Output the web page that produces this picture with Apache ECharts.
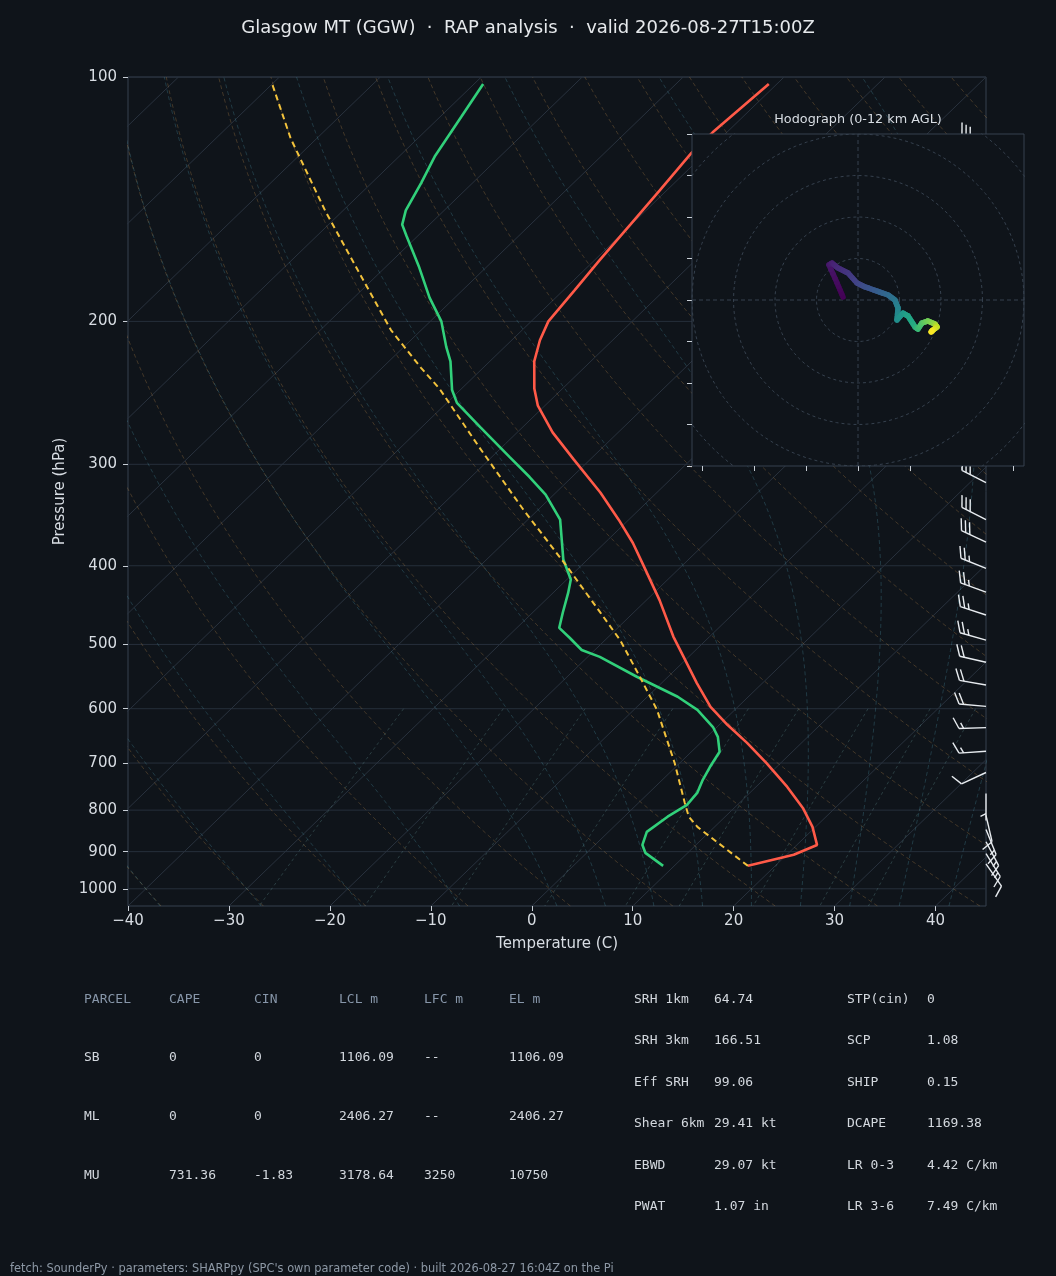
<!DOCTYPE html>
<html><head><meta charset="utf-8">
<script src="https://cdn.jsdelivr.net/npm/echarts@6/dist/echarts.min.js"></script>
<style>html,body{margin:0;padding:0;background:#0f141a;}#c{width:1056px;height:1276px;}</style>
</head><body><div id="c"></div>
<script>
// ---------------- data ----------------
const titleText = 'Glasgow MT (GGW)  \u00b7  RAP analysis  \u00b7  valid 2026-08-27T15:00Z';
const footerText = "fetch: SounderPy \u00b7 parameters: SHARPpy (SPC's own parameter code) \u00b7 built 2026-08-27 16:04Z on the Pi";
const pressureTicks = [100, 200, 300, 400, 500, 600, 700, 800, 900, 1000];
const tempTicks = [-40, -30, -20, -10, 0, 10, 20, 30, 40];

const tempP = [937, 908, 883, 839, 795, 749, 700, 661, 628, 597, 558, 518, 489, 441, 397, 375, 351, 325, 296, 274, 254, 242, 224, 211, 200, 183, 168, 152, 138, 124, 117, 102];
const tempT = [17.3, 20.7, 22.0, 19.7, 16.8, 13.1, 8.6, 4.6, 0.8, -2.7, -6.5, -10.5, -13.6, -18.7, -24.2, -27.2, -31.0, -35.6, -41.6, -46.5, -50.7, -52.8, -55.6, -57.2, -58.3, -58.9, -59.5, -60.1, -60.7, -61.4, -61.4, -60.8];

const dewP = [937, 903, 883, 851, 815, 788, 762, 734, 708, 678, 650, 632, 602, 580, 548, 518, 508, 491, 477, 457, 432, 416, 393, 351, 327, 311, 294, 270, 252, 243, 224, 215, 200, 187, 171, 157, 152, 146, 135, 125, 112, 102];
const dewT = [8.9, 5.8, 4.7, 3.8, 4.3, 5.0, 4.8, 4.0, 3.4, 2.8, 1.1, -0.4, -3.7, -7.0, -13.1, -18.8, -21.3, -23.7, -25.8, -27.0, -28.5, -29.6, -32.4, -36.8, -40.8, -44.2, -48.2, -54.2, -59.0, -60.8, -63.9, -65.8, -68.9, -72.5, -76.8, -81.1, -82.7, -83.8, -85.1, -86.5, -87.9, -89.1];

const parcelP = [937, 839, 815, 784, 700, 602, 548, 494, 456, 401, 341, 286, 242, 228, 205, 174, 146, 119, 102];
const parcelT = [17.3, 8.3, 6.4, 4.6, -0.5, -7.7, -12.8, -18.5, -23.4, -31.3, -41.5, -52.2, -62.2, -66.2, -73.0, -82.1, -91.8, -102.6, -110.0];

const barbP   = [932, 905, 875, 845, 812, 763, 719, 677, 633, 596, 561, 526, 494, 460, 431, 403, 374, 351, 316, 290, 266, 244, 224, 205, 188, 172, 158, 145, 133, 122];
const barbSpd = [10, 15, 15, 15, 10, 5, 10, 15, 15, 20, 20, 20, 25, 25, 25, 25, 30, 30, 30, 30, 30, 30, 30, 30, 30, 30, 30, 30, 30, 30];
const barbDir = [145, 148, 152, 158, 167, 180, 245, 266, 268, 275, 280, 283, 286, 288, 290, 292, 295, 297, 297, 297, 297, 297, 297, 297, 297, 297, 297, 297, 297, 297];

const hodoU = [-7.2, -10.1, -14.0, -12.5, -9.6, -4.8, -0.5, 3.4, 9.2, 14.5, 17.8, 19.3, 18.8, 21.7, 24.1, 27.5, 28.9, 30.8, 33.7, 37.1, 38.1, 36.1, 35.2];
const hodoV = [1.4, 8.2, 16.9, 17.8, 15.4, 13.0, 8.2, 6.3, 4.3, 2.4, 0.0, -3.9, -9.6, -6.3, -7.7, -13.0, -14.0, -11.1, -10.1, -11.6, -13.0, -14.5, -15.4];
const hodoH = [0, 0.3, 0.7, 1.0, 1.4, 1.8, 2.3, 2.8, 3.4, 4.0, 4.6, 5.2, 5.8, 6.3, 6.8, 7.4, 8.0, 8.6, 9.3, 10.0, 10.7, 11.4, 12.0];
const hodoRings = [20, 40, 60, 80, 100];
const hodoXTicks = [-75, -50, -25, 0, 25, 50, 75];
const hodoYTicks = [-80, -60, -40, -20, 0, 20, 40, 60, 80];

const parcelHeaders = ['PARCEL', 'CAPE', 'CIN', 'LCL m', 'LFC m', 'EL m'];
const parcelRows = [
  ['SB', '0', '0', '1106.09', '--', '1106.09'],
  ['ML', '0', '0', '2406.27', '--', '2406.27'],
  ['MU', '731.36', '-1.83', '3178.64', '3250', '10750']
];
const paramLabelsL = ['SRH 1km', 'SRH 3km', 'Eff SRH', 'Shear 6km', 'EBWD', 'PWAT'];
const paramValuesL = ['64.74', '166.51', '99.06', '29.41 kt', '29.07 kt', '1.07 in'];
const paramLabelsR = ['STP(cin)', 'SCP', 'SHIP', 'DCAPE', 'LR 0-3', 'LR 3-6'];
const paramValuesR = ['0', '1.08', '0.15', '1169.38', '4.42 C/km', '7.49 C/km'];

// ---------------- helpers ----------------
const P_BOT = 1050, P_TOP = 100, X_MIN = -40, X_MAX = 45;
const LB = Math.log10(P_BOT), LT = Math.log10(P_TOP);
function skewX(T, p) { return T + (X_MAX - X_MIN) * (LB - Math.log10(p)) / (LB - LT); }
function pt(T, p) { return [skewX(T, p), Math.log10(p)]; }

const BG = '#0f141a';
const FONT = '"DejaVu Sans", sans-serif';
const MONO = '"DejaVu Sans Mono", monospace';

const guideP = [];
for (let k = 0; k <= 60; k++) guideP.push(P_BOT * Math.pow(P_TOP / P_BOT, k / 60));

const Rd = 287.04, Cp = 1005.7, Lv = 2.501e6, EPS = 0.622;
function esat(Tk) { const Tc = Tk - 273.15; return 6.112 * Math.exp(17.67 * Tc / (Tc + 243.5)); }
function rsat(p, Tk) { const e = esat(Tk); return EPS * e / (p - e); }
function dTdp(p, Tk) { const r = rsat(p, Tk); return (Rd * Tk + Lv * r) / (Cp + Lv * Lv * r * EPS / (Rd * Tk * Tk)) / p; }
function moistT(t0, p) {
  let T = t0 + 273.15, pc = 1000;
  const n = Math.max(4, Math.ceil(Math.abs(p - 1000) / 4));
  const h = (p - 1000) / n;
  for (let k = 0; k < n; k++) {
    const k1 = dTdp(pc, T), k2 = dTdp(pc + h / 2, T + h * k1 / 2), k3 = dTdp(pc + h / 2, T + h * k2 / 2), k4 = dTdp(pc + h, T + h * k3);
    T += h * (k1 + 2 * k2 + 2 * k3 + k4) / 6; pc += h;
  }
  return T - 273.15;
}

const series = [];
function guide(data, color, type, z) {
  series.push({ type: 'line', xAxisIndex: 0, yAxisIndex: 0, data: data, showSymbol: false, silent: true, clip: true, z: z || 1,
    lineStyle: { color: color, width: 1, type: type }, animation: false });
}
// isobars
pressureTicks.forEach(p => guide([[X_MIN, Math.log10(p)], [X_MAX, Math.log10(p)]], '#262f3b', 'solid', 1));
// isotherms
for (let T = -130; T <= 40; T += 10) guide([pt(T, P_BOT), pt(T, P_TOP)], '#29323e', 'solid', 1);
// dry adiabats
for (let t0 = -40; t0 <= 200; t0 += 10) {
  guide(guideP.map(p => pt((t0 + 273.15) * Math.pow(p / 1000, Rd / Cp) - 273.15, p)), 'rgba(190,140,75,0.30)', [4, 3], 1);
}
// moist adiabats
[-40, -30, -20, -10, 0, 5, 10, 15, 20, 25, 30, 35, 40, 45].forEach(t0 => {
  guide(guideP.map(p => pt(moistT(t0, p), p)), 'rgba(70,140,160,0.32)', [4, 3], 1);
});
// mixing ratio lines
const mixP = [];
for (let k = 0; k <= 12; k++) mixP.push(600 + (P_BOT - 600) * k / 12);
[0.0004, 0.001, 0.002, 0.004, 0.007, 0.01, 0.016, 0.024, 0.032].forEach(w => {
  guide(mixP.map(p => { const e = p * w / (EPS + w); const l = Math.log(e / 6.112); return pt(243.5 * l / (17.67 - l), p); }), 'rgba(100,150,150,0.32)', [3, 3], 1);
});

// profiles
series.push({ type: 'line', name: 'T', data: tempP.map((p, i) => pt(tempT[i], p)), showSymbol: false, z: 3, clip: true,
  lineStyle: { color: '#ff5a48', width: 2.6 }, animation: false });
series.push({ type: 'line', name: 'Td', data: dewP.map((p, i) => pt(dewT[i], p)), showSymbol: false, z: 3, clip: true,
  lineStyle: { color: '#31d07a', width: 2.6 }, animation: false });
series.push({ type: 'line', name: 'Parcel', data: parcelP.map((p, i) => pt(parcelT[i], p)), showSymbol: false, z: 3, clip: true,
  lineStyle: { color: '#f2c23c', width: 2, type: [6, 4] }, animation: false });

// wind barbs
series.push({
  type: 'custom', xAxisIndex: 0, yAxisIndex: 0, z: 3, clip: false, silent: true, animation: false,
  data: barbP.map(p => [X_MAX, Math.log10(p)]),
  renderItem: function (params, api) {
    const i = params.dataIndex;
    const base = api.coord([api.value(0), api.value(1)]);
    const a = barbDir[i] * Math.PI / 180;
    const d = [Math.sin(a), -Math.cos(a)];
    const n = [-d[1], d[0]];
    const L = 27, H = 11, SP = 4.6;
    const tip = [base[0] + L * d[0], base[1] + L * d[1]];
    const children = [{ type: 'line', shape: { x1: base[0], y1: base[1], x2: tip[0], y2: tip[1] } }];
    let s = Math.round(barbSpd[i] / 5) * 5;
    let off = 0;
    while (s >= 50) {
      const p0 = [tip[0] - off * d[0], tip[1] - off * d[1]];
      children.push({ type: 'polygon', shape: { points: [p0, [p0[0] + H * n[0] - 3 * d[0], p0[1] + H * n[1] - 3 * d[1]], [p0[0] - 6 * d[0], p0[1] - 6 * d[1]]] }, style: { fill: '#e8ecf0' } });
      off += 6 + SP; s -= 50;
    }
    while (s >= 10) {
      const p0 = [tip[0] - off * d[0], tip[1] - off * d[1]];
      children.push({ type: 'line', shape: { x1: p0[0], y1: p0[1], x2: p0[0] + H * n[0] + H / 2 * d[0], y2: p0[1] + H * n[1] + H / 2 * d[1] } });
      off += SP; s -= 10;
    }
    if (s >= 5) {
      if (off === 0) off = 1.5 * SP;
      const p0 = [tip[0] - off * d[0], tip[1] - off * d[1]];
      children.push({ type: 'line', shape: { x1: p0[0], y1: p0[1], x2: p0[0] + H / 2 * n[0] + H / 4 * d[0], y2: p0[1] + H / 2 * n[1] + H / 4 * d[1] } });
    }
    children.forEach(c => { if (c.type === 'line') c.style = { stroke: '#e8ecf0', lineWidth: 1.4 }; });
    return { type: 'group', children: children };
  }
});

// hodograph guides
hodoRings.forEach(r => {
  const ring = [];
  for (let k = 0; k <= 90; k++) { const t = k / 90 * 2 * Math.PI; ring.push([r * Math.cos(t), r * Math.sin(t)]); }
  series.push({ type: 'line', xAxisIndex: 1, yAxisIndex: 1, data: ring, showSymbol: false, silent: true, clip: true, z: 6,
    lineStyle: { color: '#36414e', width: 1, type: [3, 3] }, animation: false });
});
series.push({ type: 'line', xAxisIndex: 1, yAxisIndex: 1, data: [[-80, 0], [80, 0]], showSymbol: false, z: 6, silent: true,
  lineStyle: { color: '#36414e', width: 1, type: [4, 3] }, animation: false });
series.push({ type: 'line', xAxisIndex: 1, yAxisIndex: 1, data: [[0, -80], [0, 80]], showSymbol: false, z: 6, silent: true,
  lineStyle: { color: '#36414e', width: 1, type: [4, 3] }, animation: false });

const viridis = ['#440154', '#482475', '#414487', '#355f8d', '#2a788e', '#21918c', '#22a884', '#44bf70', '#7ad151', '#bddf26', '#fde725'];
function hex2rgb(h) { return [parseInt(h.substr(1, 2), 16), parseInt(h.substr(3, 2), 16), parseInt(h.substr(5, 2), 16)]; }
function vir(f) {
  f = Math.max(0, Math.min(1, f)) * 10; const i = Math.min(9, Math.floor(f)); const t = f - i;
  const a = hex2rgb(viridis[i]), b = hex2rgb(viridis[i + 1]);
  return 'rgb(' + a.map((v, k) => Math.round(v + (b[k] - v) * t)).join(',') + ')';
}
series.push({
  type: 'custom', xAxisIndex: 1, yAxisIndex: 1, z: 7, silent: true, animation: false, clip: true,
  data: hodoU.map((u, i) => [u, hodoV[i], hodoH[i]]),
  renderItem: function (params, api) {
    const i = params.dataIndex;
    if (i >= hodoU.length - 1) return { type: 'group', children: [] };
    const a = api.coord([hodoU[i], hodoV[i]]), b = api.coord([hodoU[i + 1], hodoV[i + 1]]);
    const ch = [];
    const N = 4;
    for (let k = 0; k < N; k++) {
      const t0 = k / N, t1 = (k + 1) / N;
      const h = hodoH[i] + (hodoH[i + 1] - hodoH[i]) * (t0 + t1) / 2;
      ch.push({ type: 'line', shape: { x1: a[0] + (b[0] - a[0]) * t0, y1: a[1] + (b[1] - a[1]) * t0, x2: a[0] + (b[0] - a[0]) * t1, y2: a[1] + (b[1] - a[1]) * t1 },
        style: { stroke: vir(h / 12), lineWidth: 5.5, lineCap: 'round' } });
    }
    return { type: 'group', children: ch };
  }
});

// text elements
const graphics = [];
function txt(x, y, s, color, font, align) {
  graphics.push({ type: 'text', x: x, y: y, silent: true, z: 10, style: { text: s, fill: color, font: font, align: align || 'left', verticalAlign: 'middle' } });
}
const colX = [84, 169, 254, 339, 424, 509];
const rowY = [1000, 1058, 1117, 1176];
parcelHeaders.forEach((h, j) => txt(colX[j], rowY[0], h, '#8796a9', '13px ' + MONO));
parcelRows.forEach((r, i) => r.forEach((v, j) => txt(colX[j], rowY[i + 1], v, '#d3d8de', '13px ' + MONO)));
const pRowY = [1000, 1041, 1083, 1124, 1166, 1207];
paramLabelsL.forEach((s, i) => { txt(634, pRowY[i], s, '#d3d8de', '13px ' + MONO); txt(714, pRowY[i], paramValuesL[i], '#d3d8de', '13px ' + MONO); });
paramLabelsR.forEach((s, i) => { txt(847, pRowY[i], s, '#d3d8de', '13px ' + MONO); txt(927, pRowY[i], paramValuesR[i], '#d3d8de', '13px ' + MONO); });
txt(858, 120, 'Hodograph (0-12 km AGL)', '#d8dde3', '12.8px ' + FONT, 'center');
txt(10, 1269, footerText, '#8d98a5', '11.4px ' + FONT);

const chart = echarts.init(document.getElementById('c'), null, { renderer: 'canvas' });
chart.setOption({
  backgroundColor: BG,
  animation: false,
  title: { text: titleText, left: 'center', top: 14, textStyle: { color: '#e6e9ec', fontSize: 18, fontWeight: 'normal', fontFamily: FONT } },
  grid: [
    { left: 128, top: 77, width: 858, height: 829, show: true, borderColor: '#36414f', borderWidth: 1, backgroundColor: 'transparent', z: 0 },
    { left: 692, top: 134, width: 332, height: 332, show: true, borderColor: '#36414f', borderWidth: 1, backgroundColor: BG, z: 5 }
  ],
  xAxis: [
    { gridIndex: 0, type: 'value', min: X_MIN, max: X_MAX, z: 0, position: 'bottom',
      name: 'Temperature (C)', nameLocation: 'middle', nameGap: 31, nameTextStyle: { color: '#d8dde3', fontSize: 15, fontFamily: FONT },
      axisLine: { show: false, onZero: false }, splitLine: { show: false },
      axisTick: { show: true, length: 5, customValues: tempTicks, lineStyle: { color: '#c9cfd6' } },
      axisLabel: { customValues: tempTicks, color: '#d8dde3', fontSize: 15, fontFamily: FONT, margin: 8,
        formatter: v => (v < 0 ? '\u2212' + (-v) : String(v)) } },
    { gridIndex: 1, type: 'value', min: -80, max: 80, z: 6, position: 'bottom',
      axisLine: { show: false, onZero: false }, splitLine: { show: false },
      axisTick: { show: true, length: 5, customValues: hodoXTicks, lineStyle: { color: '#c9cfd6' } },
      axisLabel: { show: false } }
  ],
  yAxis: [
    { gridIndex: 0, type: 'value', min: LT, max: LB, inverse: true, z: 0, position: 'left',
      name: 'Pressure (hPa)', nameLocation: 'middle', nameGap: 58, nameRotate: 90, nameTextStyle: { color: '#d8dde3', fontSize: 15, fontFamily: FONT },
      axisLine: { show: false, onZero: false }, splitLine: { show: false },
      axisTick: { show: true, length: 5, customValues: pressureTicks.map(p => Math.log10(p)), lineStyle: { color: '#c9cfd6' } },
      axisLabel: { customValues: pressureTicks.map(p => Math.log10(p)), color: '#d8dde3', fontSize: 15, fontFamily: FONT, margin: 11,
        formatter: v => String(Math.round(Math.pow(10, v))) } },
    { gridIndex: 1, type: 'value', min: -80, max: 80, z: 6, position: 'left',
      axisLine: { show: false, onZero: false }, splitLine: { show: false },
      axisTick: { show: true, length: 5, customValues: hodoYTicks, lineStyle: { color: '#c9cfd6' } },
      axisLabel: { show: false } }
  ],
  series: series,
  graphic: { elements: graphics }
});
</script>
</body></html>
